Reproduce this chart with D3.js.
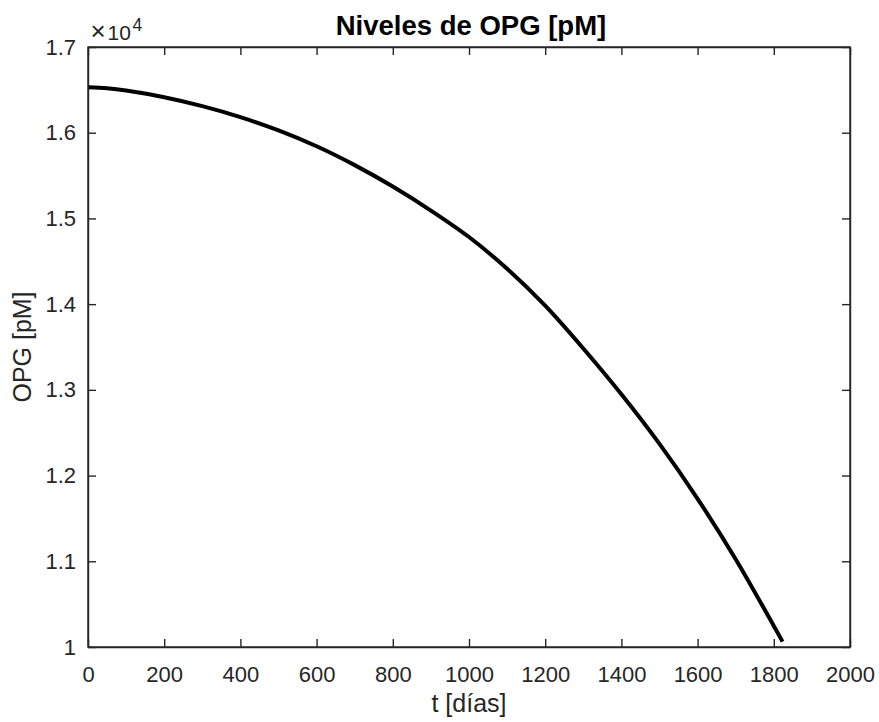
<!DOCTYPE html>
<html>
<head>
<meta charset="utf-8">
<script src="https://cdn.jsdelivr.net/npm/d3@7"></script>
<style>
  html, body { margin: 0; padding: 0; background: #fff; }
  svg { display: block; font-family: Arial, "Liberation Sans", Helvetica, sans-serif; }
</style>
</head>
<body>
<svg id="chart" width="879" height="722"></svg>
<script>
const titleText = "Niveles de OPG [pM]";
const xLabelText = "t [días]";
const yLabelText = "OPG [pM]";
const xTicks = [0, 200, 400, 600, 800, 1000, 1200, 1400, 1600, 1800, 2000];
const yTicks = [1.0, 1.1, 1.2, 1.3, 1.4, 1.5, 1.6, 1.7];
const yTickLabels = ["1", "1.1", "1.2", "1.3", "1.4", "1.5", "1.6", "1.7"];
const days = [0, 50, 100, 200, 300, 400, 500, 600, 700, 800, 900, 1000, 1100, 1200, 1300, 1400, 1500, 1600, 1700, 1800, 1823];
const opg  = [16530, 16518, 16492, 16414, 16310, 16182, 16027, 15842, 15622, 15372, 15092, 14783, 14413, 13983, 13483, 12948, 12369, 11729, 11024, 10246, 10063];

const W = 879, H = 722;
const m = { left: 88, right: 29, top: 47, bottom: 75 };
const svg = d3.select("#chart");
const col = "#262626";

const x = d3.scaleLinear().domain([0, 2000]).range([m.left, W - m.right]);
const y = d3.scaleLinear().domain([1.0, 1.7]).range([H - m.bottom, m.top]);

const tickLen = 8;
const gx = svg.append("g").attr("transform", `translate(0,${H - m.bottom})`)
  .call(d3.axisBottom(x).tickValues(xTicks).tickSizeInner(-tickLen).tickSizeOuter(0).tickPadding(19).tickFormat(d3.format("d")));
const gxt = svg.append("g").attr("transform", `translate(0,${m.top})`)
  .call(d3.axisTop(x).tickValues(xTicks).tickSizeInner(-tickLen).tickSizeOuter(0).tickFormat(""));
const gy = svg.append("g").attr("transform", `translate(${m.left},0)`)
  .call(d3.axisLeft(y).tickValues(yTicks).tickSizeInner(-tickLen).tickSizeOuter(0).tickPadding(12).tickFormat((d, i) => yTickLabels[i]));
const gyr = svg.append("g").attr("transform", `translate(${W - m.right},0)`)
  .call(d3.axisRight(y).tickValues(yTicks).tickSizeInner(-tickLen).tickSizeOuter(0).tickFormat(""));

[gx, gxt, gy, gyr].forEach(g => {
  g.selectAll(".domain").attr("stroke", col).attr("stroke-width", 1.4);
  g.selectAll(".tick line").attr("stroke", col).attr("stroke-width", 1.4);
  g.selectAll(".tick text").attr("fill", col).style("font-size", "22px");
});

// Line
const line = d3.line().x((d, i) => x(days[i])).y((d, i) => y(opg[i] / 10000)).curve(d3.curveCatmullRom.alpha(0.5));
svg.append("path").datum(opg).attr("d", line)
  .attr("fill", "none").attr("stroke", "#000").attr("stroke-width", 4).attr("stroke-linejoin", "round");

// Frame
svg.append("rect").attr("x", m.left).attr("y", m.top)
  .attr("width", W - m.left - m.right).attr("height", H - m.top - m.bottom)
  .attr("fill", "none").attr("stroke", col).attr("stroke-width", 1.4);

// Exponent label
svg.append("text").attr("x", 90.5).attr("y", 40).attr("fill", col).style("font-size", "26px").text("×");
svg.append("text").attr("x", 107.5).attr("y", 40).attr("fill", col).style("font-size", "21px").text("10");
svg.append("text").attr("x", 132.5).attr("y", 31).attr("fill", col).style("font-size", "17.5px").text("4");

// Title
svg.append("text").attr("x", (m.left + W - m.right) / 2 + 2).attr("y", 35)
  .attr("text-anchor", "middle").attr("fill", "#000").style("font-weight", "bold").style("font-size", "27.5px")
  .text(titleText);

// X label
svg.append("text").attr("x", (m.left + W - m.right) / 2).attr("y", 712)
  .attr("text-anchor", "middle").attr("fill", col).style("font-size", "25px").text(xLabelText);

// Y label
svg.append("text").attr("transform", `translate(31,${(m.top + H - m.bottom) / 2}) rotate(-90)`)
  .attr("text-anchor", "middle").attr("fill", col).style("font-size", "25px").text(yLabelText);
</script>
</body>
</html>
